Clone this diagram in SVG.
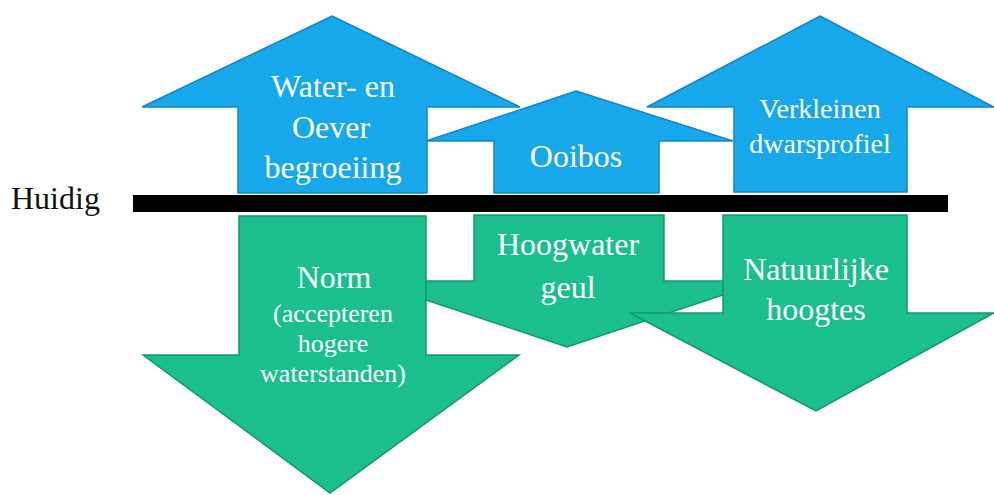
<svg xmlns="http://www.w3.org/2000/svg" width="994" height="495" viewBox="0 0 994 495">
<style>
.up{fill:#16a8ea;stroke:#1685c4;stroke-width:1.5;stroke-linejoin:miter}
.down{fill:#1bbf8e;stroke:#12976f;stroke-width:1.5;stroke-linejoin:miter}
.t{font-family:"Liberation Serif","Times New Roman",serif;fill:#ffffff;text-anchor:middle}
.big{font-size:32px}
.mid{font-size:28px}
.sm{font-size:26px}
</style>
<rect width="994" height="495" fill="#ffffff"/>
<g id="ooibos">
<polygon class="up" points="576,91 733,141 659,141 659,193 494,193 494,141 426,141"/>
<text class="t big" x="576" y="167">Ooibos</text>
</g>
<g id="water-oever">
<polygon class="up" points="332,16 520,107 427,107 427,193 238,193 238,107 142,107"/>
<text class="t big" x="333" y="97">Water- en</text>
<text class="t big" x="331" y="138">Oever</text>
<text class="t big" x="333" y="178">begroeiing</text>
</g>
<g id="verkleinen">
<polygon class="up" points="820,16 994,107 907,107 907,192 734,192 734,107 647,107"/>
<text class="t mid" x="820" y="118">Verkleinen</text>
<text class="t mid" x="820" y="153">dwarsprofiel</text>
</g>
<g id="huidig">
<rect x="133" y="195" width="815" height="17" fill="#000000"/>
<text x="11" y="209" font-family="Liberation Serif, Times New Roman, serif" font-size="32" fill="#111111">Huidig</text>
</g>
<g id="hoogwater">
<polygon class="down" points="474,215 664,215 664,281 765,281 567,347 369,281 474,281"/>
<text class="t big" x="568" y="255">Hoogwater</text>
<text class="t big" x="568" y="298">geul</text>
</g>
<g id="norm">
<polygon class="down" points="239,216 426,216 426,355 519,355 330,493 143,355 239,355"/>
<text class="t big" x="334" y="288">Norm</text>
<text class="t sm" x="333" y="322">(accepteren</text>
<text class="t sm" x="333" y="352">hogere</text>
<text class="t sm" x="333" y="382">waterstanden)</text>
</g>
<g id="natuurlijke">
<polygon class="down" points="723,215 907,215 907,313 994,313 816,411 630,313 723,313"/>
<text class="t big" x="816" y="280">Natuurlijke</text>
<text class="t big" x="816" y="320">hoogtes</text>
</g>
<g id="connectors"></g>
</svg>
